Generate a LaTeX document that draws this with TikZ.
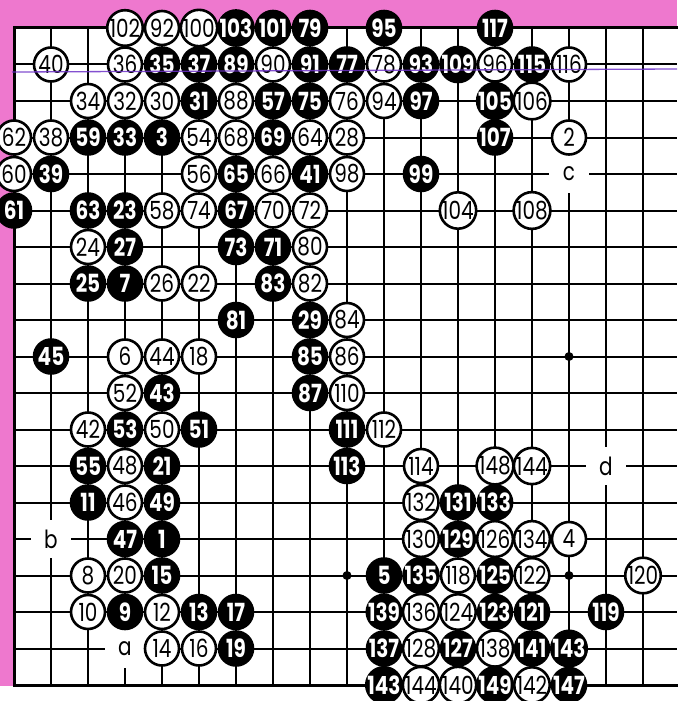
\documentclass[tikz,border=0pt]{standalone}
\usepackage{fontspec}
\setmainfont{Poppins}
\newfontfamily\stonefont[FakeStretch=0.8]{Poppins}
\definecolor{bgpink}{RGB}{238,120,206}
\definecolor{scanline}{RGB}{110,50,200}
\begin{document}
\begin{tikzpicture}[x=1pt,y=-1pt,
  gridline/.style={line width=2pt, black},
  edgeline/.style={line width=3pt, black, line cap=rect},
  wstone/.style={circle, draw=black, line width=2.6pt, fill=white, minimum size=34pt, inner sep=0pt, text=black, font=\stonefont\fontsize{25}{25}\selectfont},
  bstone/.style={circle, fill=black, minimum size=36.6pt, inner sep=0pt, text=white, font=\stonefont\bfseries\fontsize{25}{25}\selectfont},
  pointlabel/.style={fill=white, minimum width=40pt, minimum height=38pt, inner sep=0pt, font=\stonefont\fontsize{25}{25}\selectfont},
  hoshi/.style={circle, fill=black, minimum size=9pt, inner sep=0pt}
]
\useasboundingbox (0,0) rectangle (677,701);
% background
\fill[bgpink] (0,0) rectangle (677,686);
\fill[white] (14,28) rectangle (677,686);
% grid
\foreach \c in {1,...,17} \draw[gridline] ({14+37*\c},28) -- ({14+37*\c},685);
\foreach \r in {1,...,17} \draw[gridline] (14,{28+36.5*\r}) -- (677,{28+36.5*\r});
\draw[edgeline] (677,28) -- (14,28) -- (14,685) -- (677,685);
% star points
\foreach \c/\r in {9/15,15/15,15/9}
  \node[hoshi] (h\c-\r) at ({14+37*\c},{28+36.5*\r}) {};
% letter labels
\foreach \c/\r/\t in {3/17/a,1/14/b,15/4/c,16/12/d}
  \node[pointlabel] (l\t) at ({14+37*\c},{28+36.5*\r}) {\t};
% white stones
\foreach \c/\r/\n in {
  3/0/102, 4/0/92, 5/0/100,
  1/1/40, 3/1/36, 7/1/90, 10/1/78, 13/1/96, 15/1/116,
  2/2/34, 3/2/32, 4/2/30, 6/2/88, 9/2/76, 10/2/94, 14/2/106,
  0/3/62, 1/3/38, 5/3/54, 6/3/68, 8/3/64, 9/3/28, 15/3/2,
  0/4/60, 5/4/56, 7/4/66, 9/4/98,
  4/5/58, 5/5/74, 7/5/70, 8/5/72, 12/5/104, 14/5/108,
  2/6/24, 8/6/80,
  4/7/26, 5/7/22, 8/7/82,
  9/8/84,
  3/9/6, 4/9/44, 5/9/18, 9/9/86,
  3/10/52, 9/10/110,
  2/11/42, 4/11/50, 10/11/112,
  3/12/48, 11/12/114, 13/12/148, 14/12/144,
  3/13/46, 11/13/132,
  11/14/130, 13/14/126, 14/14/134, 15/14/4,
  2/15/8, 3/15/20, 12/15/118, 14/15/122, 17/15/120,
  2/16/10, 4/16/12, 11/16/136, 12/16/124,
  4/17/14, 5/17/16, 11/17/128, 13/17/138,
  11/18/144, 12/18/140, 14/18/142}
  \node[wstone] (p\c-\r) at ({14+37*\c},{28+36.5*\r}) {\n};
% black stones
\foreach \c/\r/\n in {
  6/0/103, 7/0/101, 8/0/79, 10/0/95, 13/0/117,
  4/1/35, 5/1/37, 6/1/89, 8/1/91, 9/1/77, 11/1/93, 12/1/109, 14/1/115,
  5/2/31, 7/2/57, 8/2/75, 11/2/97, 13/2/105,
  2/3/59, 3/3/33, 4/3/3, 7/3/69, 13/3/107,
  1/4/39, 6/4/65, 8/4/41, 11/4/99,
  0/5/61, 2/5/63, 3/5/23, 6/5/67,
  3/6/27, 6/6/73, 7/6/71,
  2/7/25, 3/7/7, 7/7/83,
  6/8/81, 8/8/29,
  1/9/45, 8/9/85,
  4/10/43, 8/10/87,
  3/11/53, 5/11/51, 9/11/111,
  2/12/55, 4/12/21, 9/12/113,
  2/13/11, 4/13/49, 12/13/131, 13/13/133,
  3/14/47, 4/14/1, 12/14/129,
  4/15/15, 10/15/5, 11/15/135, 13/15/125,
  3/16/9, 5/16/13, 6/16/17, 10/16/139, 13/16/123, 14/16/121, 16/16/119,
  6/17/19, 10/17/137, 12/17/127, 14/17/141, 15/17/143,
  10/18/143, 13/18/149, 15/18/147}
  \node[bstone] (p\c-\r) at ({14+37*\c},{28+36.5*\r}) {\n};
% faint scan line across the second row
\draw[scanline, line width=1.3pt, opacity=0.85] (12,72) -- (677,69);
\end{tikzpicture}
\end{document}
